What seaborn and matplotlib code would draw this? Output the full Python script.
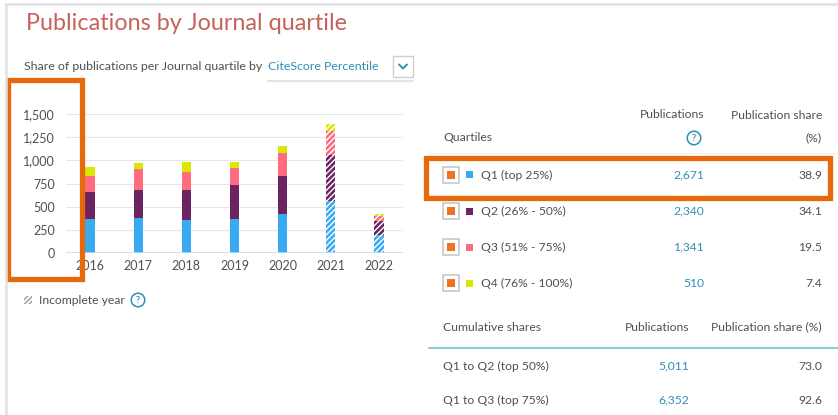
import matplotlib
matplotlib.use("Agg")
import matplotlib.pyplot as plt
from matplotlib.patches import Rectangle
from matplotlib.ticker import StrMethodFormatter
import numpy as np
import seaborn as sns

# data
years = ["2016", "2017", "2018", "2019", "2020", "2021", "2022"]
q1 = [368, 377, 359, 368, 423, 563, 194]
q2 = [286, 298, 316, 364, 410, 492, 154]
q3 = [178, 231, 195, 188, 244, 266, 47]
q4 = [96, 63, 108, 67, 79, 68, 28]
incomplete = ["2021", "2022"]

quartile_labels = ["Q1 (top 25%)", "Q2 (26% - 50%)", "Q3 (51% - 75%)", "Q4 (76% - 100%)"]
quartile_pubs = ["2,671", "2,340", "1,341", "510"]
quartile_share = ["38.9", "34.1", "19.5", "7.4"]
cum_labels = ["Q1 to Q2 (top 50%)", "Q1 to Q3 (top 75%)"]
cum_pubs = ["5,011", "6,352"]
cum_share = ["73.0", "92.6"]

colors = ["#3aaaf0", "#6b2460", "#ff6b7f", "#d8e800"]
TXT = "#505050"
LINK = "#2f8fb5"
ORANGE = "#e8690c"
TITLE = "#c6625a"

sns.set_theme(style="white")
plt.rcParams["font.family"] = ["Lato", "DejaVu Sans"]
plt.rcParams["hatch.linewidth"] = 1.0

W, H = 838, 415
fig = plt.figure(figsize=(W / 100, H / 100), dpi=100)
fig.patch.set_facecolor("white")

# chart axes (pixel box: x 66-403, y 114-253)
ax = fig.add_axes([66 / W, (H - 253) / H, 337 / W, 139 / H])
layers = np.cumsum([q1, q2, q3, q4], axis=0)
for i in reversed(range(4)):
    n0 = len(ax.patches)
    sns.barplot(x=years, y=layers[i], color=colors[i], saturation=1, width=0.19,
                errorbar=None, linewidth=0, ax=ax, zorder=3)
    for p, yr in zip(ax.patches[n0:], years):
        if yr in incomplete:
            p.set_hatch("//////")
            p.set_edgecolor("white")
            p.set_linewidth(0)

ax.set_xlim(-0.5, 6.5)
ax.set_ylim(0, 1500)
ax.set_yticks(range(0, 1501, 250))
ax.yaxis.set_major_formatter(StrMethodFormatter("{x:,.0f}"))
ax.yaxis.grid(True, color="#e6e6e9", lw=0.8)
ax.set_axisbelow(True)
ax.axhline(0, color="#ccd6eb", lw=1.2, zorder=4)
sns.despine(ax=ax, left=True, bottom=True)
ax.tick_params(length=0, labelsize=9, colors=TXT)
ax.tick_params(axis="y", pad=8)
ax.tick_params(axis="x", pad=5)
ax.set_xlabel("")
ax.set_ylabel("")

# overlay in pixel coordinates for the page furniture
ov = fig.add_axes([0, 0, 1, 1], zorder=5)
ov.set_xlim(0, W)
ov.set_ylim(H, 0)
ov.axis("off")
ov.patch.set_visible(False)

ov.plot([5, W], [4.5, 4.5], color="#e2e2e2", lw=1.8)
ov.plot([5.5, 5.5], [4, H], color="#e2e2e2", lw=1.8)

ov.text(26, 24, "Publications by Journal quartile", fontsize=16.8, color=TITLE,
        va="center")
ov.text(24, 66, "Share of publications per Journal quartile by", fontsize=8.9,
        color=TXT, va="center")
ov.text(268, 66, "CiteScore Percentile", fontsize=8.9, color=LINK, va="center")
ov.add_patch(Rectangle((393, 56), 20, 21, fc="white", ec="#cfcfcf", lw=1))
ov.plot([399, 403, 407], [64.5, 68.5, 64.5], color=LINK, lw=1.4)
ov.plot([268, 413], [81, 81], color="#e3e3e3", lw=1.5)


def help_icon(x, y):
    ov.text(x, y, "?", fontsize=6.5, color=LINK, ha="center", va="center",
            fontweight="bold",
            bbox=dict(boxstyle="circle,pad=0.25", fc="white", ec=LINK, lw=1.1))


# incomplete year legend
icon = Rectangle((24, 296), 8, 8, fc="white", ec="none", hatch="///////")
ov.add_patch(icon)
icon.set_edgecolor("#9a9a9a")
icon.set_linewidth(0)
ov.text(39, 300, "Incomplete year", fontsize=8.7, color=TXT, va="center")
help_icon(138, 300)

# quartile table
ov.text(443, 137, "Quartiles", fontsize=8.7, color=TXT, va="center")
ov.text(704, 114, "Publications", fontsize=8.7, color=TXT, va="center", ha="right")
help_icon(694, 138)
ov.text(822, 115, "Publication share", fontsize=8.7, color=TXT, va="center", ha="right")
ov.text(822, 138, "(%)", fontsize=8.7, color=TXT, va="center", ha="right")
ov.plot([430, W], [153, 153], color="#ededed", lw=0.8)

row_y = [175, 211, 247, 283]
for y, lab, pub, sh, c in zip(row_y, quartile_labels, quartile_pubs, quartile_share, colors):
    ov.add_patch(Rectangle((443, y - 8), 16, 16, fc="white", ec="#c4c4c4", lw=1.1))
    ov.add_patch(Rectangle((447, y - 4), 8, 8, fc="#ec7424", ec="none"))
    ov.add_patch(Rectangle((466, y - 3.5), 7, 7, fc=c, ec="none"))
    ov.text(481, y, lab, fontsize=8.7, color=TXT, va="center")
    ov.text(704, y, pub, fontsize=8.7, color=LINK, va="center", ha="right")
    ov.text(822, y, sh, fontsize=8.7, color=TXT, va="center", ha="right")

# cumulative table
ov.text(443, 327, "Cumulative shares", fontsize=8.7, color=TXT, va="center")
ov.text(689, 327, "Publications", fontsize=8.7, color=TXT, va="center", ha="right")
ov.text(822, 327, "Publication share (%)", fontsize=8.7, color=TXT, va="center", ha="right")
ov.plot([429, W], [348, 348], color="#92cadb", lw=1.5)
for y, lab, pub, sh in zip([366, 400], cum_labels, cum_pubs, cum_share):
    ov.text(443, y, lab, fontsize=8.7, color=TXT, va="center")
    ov.text(689, y, pub, fontsize=8.7, color=LINK, va="center", ha="right")
    ov.text(822, y, sh, fontsize=8.7, color=TXT, va="center", ha="right")

# orange highlight boxes
ov.add_patch(Rectangle((7.5, 80), 74.5, 199, fc="none", ec=ORANGE, lw=3.8))
ov.add_patch(Rectangle((426, 158), 404, 40, fc="none", ec=ORANGE, lw=3.8))

fig.savefig("out.png", dpi=100)
